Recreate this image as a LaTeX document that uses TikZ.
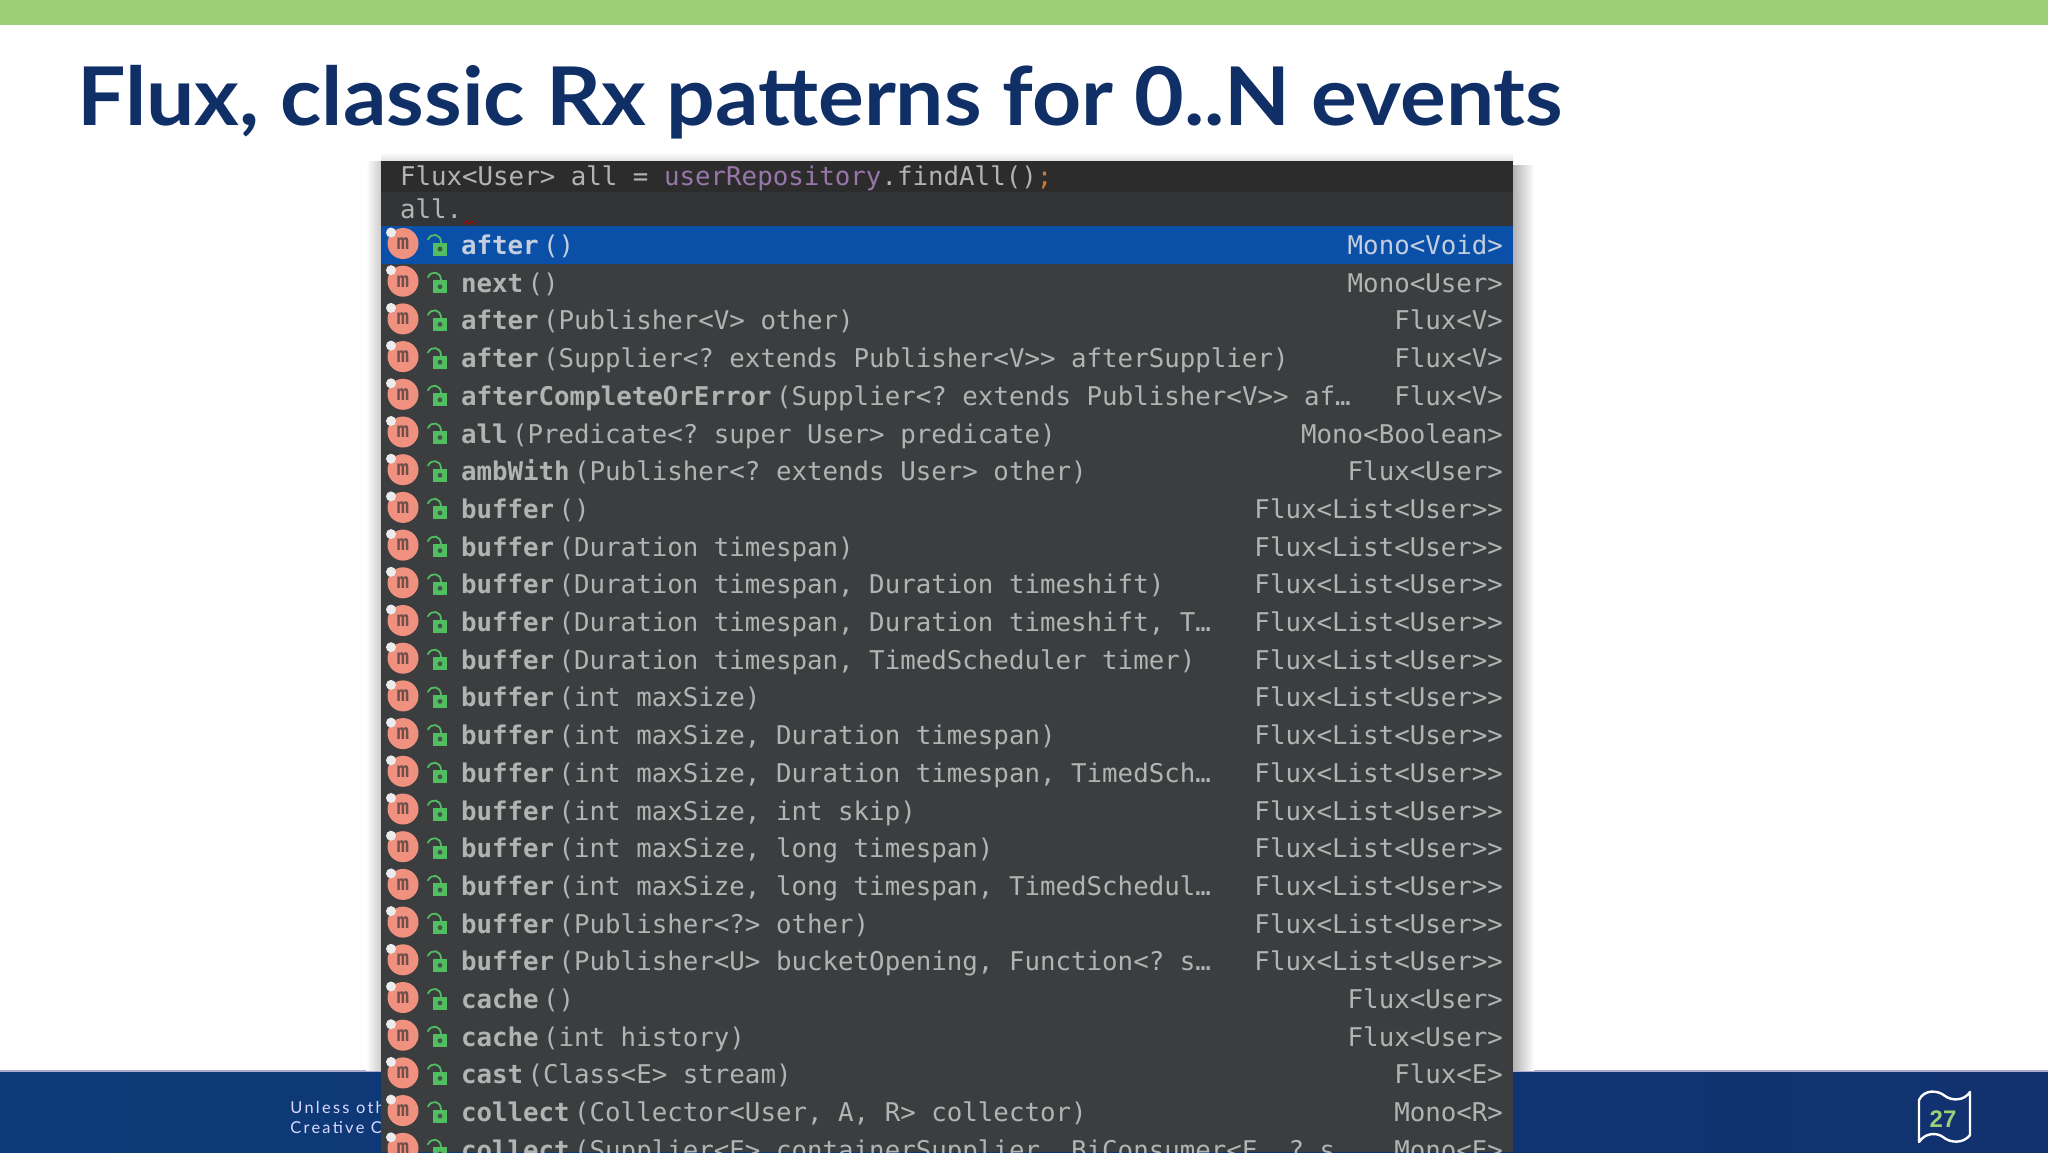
\documentclass[tikz,border=0pt]{standalone}
\usepackage{fontspec}
\setmainfont{Lato}
\setmonofont{DejaVu Sans Mono}
\newfontfamily\titlefont[FakeStretch=1.058]{Lato}
\newfontfamily\footfont[LetterSpace=14]{Lato}
\newfontfamily\numfont{Liberation Sans}
\usepackage{tikz}

\newcommand\mname[1]{\textbf{#1}\kern2.2pt}

\definecolor{topgreen}{HTML}{9CCF77}
\definecolor{titleblue}{HTML}{0F2F66}
\definecolor{bandleft}{HTML}{0D3A78}
\definecolor{bandmid}{HTML}{143A7C}
\definecolor{bandright}{HTML}{11326F}
\definecolor{panelgray}{HTML}{3C3D3F}
\definecolor{headdark}{HTML}{2C2C2D}
\definecolor{headlight}{HTML}{333435}
\definecolor{rowblue}{HTML}{0A4FA8}
\definecolor{codegray}{HTML}{B2B3B3}
\definecolor{rowlight}{HTML}{C4CEDF}
\definecolor{fieldpurple}{HTML}{9876AA}
\definecolor{semiorange}{HTML}{CC7832}
\definecolor{iconpink}{HTML}{F0907F}
\definecolor{iconletter}{HTML}{6E4F4B}
\definecolor{lockgreen}{HTML}{52BE62}

\tikzset{
  code/.style={anchor=mid west, yshift=-2pt, inner sep=0pt, outer sep=0pt, text=codegray, font=\fontsize{12.9}{15}\ttfamily},
  ret/.style={anchor=mid east, yshift=-2pt, inner sep=0pt, outer sep=0pt, text=codegray, font=\fontsize{12.9}{15}\ttfamily},
  footline/.style={anchor=base west, inner sep=0pt, text=white!85!blue, font=\fontsize{8.2}{10}\footfont},
  rowicons/.pic={
    \node[circle, fill=iconpink, minimum size=15.5pt, inner sep=0pt, text=iconletter, font=\fontsize{10.5}{12}\ttfamily\bfseries] (m) at (403,-2) {m};
    \fill[white!85!gray] (391,-13) circle (5);
    \fill[lockgreen] (433,-3) rectangle (447,10);
    \fill[panelgray!80!lockgreen] (440,3.5) circle (2.4);
    \draw[lockgreen, line width=0.9pt, line cap=round] (441,-3) .. controls (441,-12) and (431,-13) .. (428,-6);
  }
}

\begin{document}
\begin{tikzpicture}[x=0.5pt, y=-0.5pt]
\clip (0,0) rectangle (2048,1152);
\fill[white] (0,0) rectangle (2048,1152);

\fill[topgreen] (0,0) rectangle (2048,25);
\node[anchor=base west, inner sep=0pt, text=titleblue, font=\fontsize{40.5}{48}\titlefont\bfseries] (title) at (77,125) {Flux, classic Rx patterns for 0..N events};

% footer band
\shade[left color=bandleft, middle color=bandmid, right color=bandright] (0,1072) rectangle (2048,1152);
\fill[blue!30!gray!50] (0,1070) rectangle (2048,1072);
\node[footline] (foot1) at (290,1113) {Unless oth};
\node[footline] (foot2) at (290,1133) {Creative C};

\draw[white, line width=1.2pt, line join=round] (1919,1100) .. controls (1924,1089) and (1938,1090) .. (1945,1096) .. controls (1952,1101) and (1964,1101) .. (1970,1092) -- (1970,1135) .. controls (1963,1144) and (1950,1143) .. (1943,1137) .. controls (1936,1132) and (1925,1133) .. (1919,1142) -- cycle;
\node[inner sep=0pt, text=topgreen, font=\fontsize{12}{14}\numfont\bfseries] (pagenum) at (1943,1119) {27};

% panel with its shadow
\shade[left color=white, right color=black!20] (366,161) rectangle (381,1070);
\shade[left color=black!30, right color=white] (1513,165) rectangle (1534,1070);
\shade[top color=white, bottom color=black!12] (381,152) rectangle (1513,161);
\fill[panelgray] (381,161) rectangle (1513,1152);
\fill[headdark] (381,161) rectangle (1513,192);
\fill[headlight] (381,192) rectangle (1513,226);
\fill[rowblue] (381,226) rectangle (1513,264);

\node[code] (line1) at (400,176) {Flux<User> all = \textcolor{fieldpurple}{userRepository}.findAll()\textcolor{semiorange}{;}};
\node[code] (line2) at (400,209) {all.};
\draw[red!70!black, line width=0.5pt] (463,224) -- (466,221) -- (469,224) -- (472,221) -- (475,224);

\pic (p0) at (0,245.5) {rowicons};
\node[code, text=rowlight] (m0) at (461,245.5) {\mname{after}()};
\node[ret, text=rowlight] (r0) at (1503,245.5) {Mono<Void>};

\pic (p1) at (0,283.2) {rowicons};
\node[code] (m1) at (461,283.2) {\mname{next}()};
\node[ret] (r1) at (1503,283.2) {Mono<User>};

\pic (p2) at (0,320.9) {rowicons};
\node[code] (m2) at (461,320.9) {\mname{after}(Publisher<V> other)};
\node[ret] (r2) at (1503,320.9) {Flux<V>};

\pic (p3) at (0,358.6) {rowicons};
\node[code] (m3) at (461,358.6) {\mname{after}(Supplier<? extends Publisher<V>> afterSupplier)};
\node[ret] (r3) at (1503,358.6) {Flux<V>};

\pic (p4) at (0,396.3) {rowicons};
\node[code] (m4) at (461,396.3) {\mname{afterCompleteOrError}(Supplier<? extends Publisher<V>> af…};
\node[ret] (r4) at (1503,396.3) {Flux<V>};

\pic (p5) at (0,434) {rowicons};
\node[code] (m5) at (461,434) {\mname{all}(Predicate<? super User> predicate)};
\node[ret] (r5) at (1503,434) {Mono<Boolean>};

\pic (p6) at (0,471.7) {rowicons};
\node[code] (m6) at (461,471.7) {\mname{ambWith}(Publisher<? extends User> other)};
\node[ret] (r6) at (1503,471.7) {Flux<User>};

\pic (p7) at (0,509.4) {rowicons};
\node[code] (m7) at (461,509.4) {\mname{buffer}()};
\node[ret] (r7) at (1503,509.4) {Flux<List<User>>};

\pic (p8) at (0,547.1) {rowicons};
\node[code] (m8) at (461,547.1) {\mname{buffer}(Duration timespan)};
\node[ret] (r8) at (1503,547.1) {Flux<List<User>>};

\pic (p9) at (0,584.8) {rowicons};
\node[code] (m9) at (461,584.8) {\mname{buffer}(Duration timespan, Duration timeshift)};
\node[ret] (r9) at (1503,584.8) {Flux<List<User>>};

\pic (p10) at (0,622.5) {rowicons};
\node[code] (m10) at (461,622.5) {\mname{buffer}(Duration timespan, Duration timeshift, T…};
\node[ret] (r10) at (1503,622.5) {Flux<List<User>>};

\pic (p11) at (0,660.2) {rowicons};
\node[code] (m11) at (461,660.2) {\mname{buffer}(Duration timespan, TimedScheduler timer)};
\node[ret] (r11) at (1503,660.2) {Flux<List<User>>};

\pic (p12) at (0,697.9) {rowicons};
\node[code] (m12) at (461,697.9) {\mname{buffer}(int maxSize)};
\node[ret] (r12) at (1503,697.9) {Flux<List<User>>};

\pic (p13) at (0,735.6) {rowicons};
\node[code] (m13) at (461,735.6) {\mname{buffer}(int maxSize, Duration timespan)};
\node[ret] (r13) at (1503,735.6) {Flux<List<User>>};

\pic (p14) at (0,773.3) {rowicons};
\node[code] (m14) at (461,773.3) {\mname{buffer}(int maxSize, Duration timespan, TimedSch…};
\node[ret] (r14) at (1503,773.3) {Flux<List<User>>};

\pic (p15) at (0,811) {rowicons};
\node[code] (m15) at (461,811) {\mname{buffer}(int maxSize, int skip)};
\node[ret] (r15) at (1503,811) {Flux<List<User>>};

\pic (p16) at (0,848.7) {rowicons};
\node[code] (m16) at (461,848.7) {\mname{buffer}(int maxSize, long timespan)};
\node[ret] (r16) at (1503,848.7) {Flux<List<User>>};

\pic (p17) at (0,886.4) {rowicons};
\node[code] (m17) at (461,886.4) {\mname{buffer}(int maxSize, long timespan, TimedSchedul…};
\node[ret] (r17) at (1503,886.4) {Flux<List<User>>};

\pic (p18) at (0,924.1) {rowicons};
\node[code] (m18) at (461,924.1) {\mname{buffer}(Publisher<?> other)};
\node[ret] (r18) at (1503,924.1) {Flux<List<User>>};

\pic (p19) at (0,961.8) {rowicons};
\node[code] (m19) at (461,961.8) {\mname{buffer}(Publisher<U> bucketOpening, Function<? s…};
\node[ret] (r19) at (1503,961.8) {Flux<List<User>>};

\pic (p20) at (0,999.5) {rowicons};
\node[code] (m20) at (461,999.5) {\mname{cache}()};
\node[ret] (r20) at (1503,999.5) {Flux<User>};

\pic (p21) at (0,1037.2) {rowicons};
\node[code] (m21) at (461,1037.2) {\mname{cache}(int history)};
\node[ret] (r21) at (1503,1037.2) {Flux<User>};

\pic (p22) at (0,1074.9) {rowicons};
\node[code] (m22) at (461,1074.9) {\mname{cast}(Class<E> stream)};
\node[ret] (r22) at (1503,1074.9) {Flux<E>};

\pic (p23) at (0,1112.6) {rowicons};
\node[code] (m23) at (461,1112.6) {\mname{collect}(Collector<User, A, R> collector)};
\node[ret] (r23) at (1503,1112.6) {Mono<R>};

\pic (p24) at (0,1150.3) {rowicons};
\node[code] (m24) at (461,1150.3) {\mname{collect}(Supplier<E> containerSupplier, BiConsumer<E, ? s…};
\node[ret] (r24) at (1503,1150.3) {Mono<E>};
\end{tikzpicture}
\end{document}
